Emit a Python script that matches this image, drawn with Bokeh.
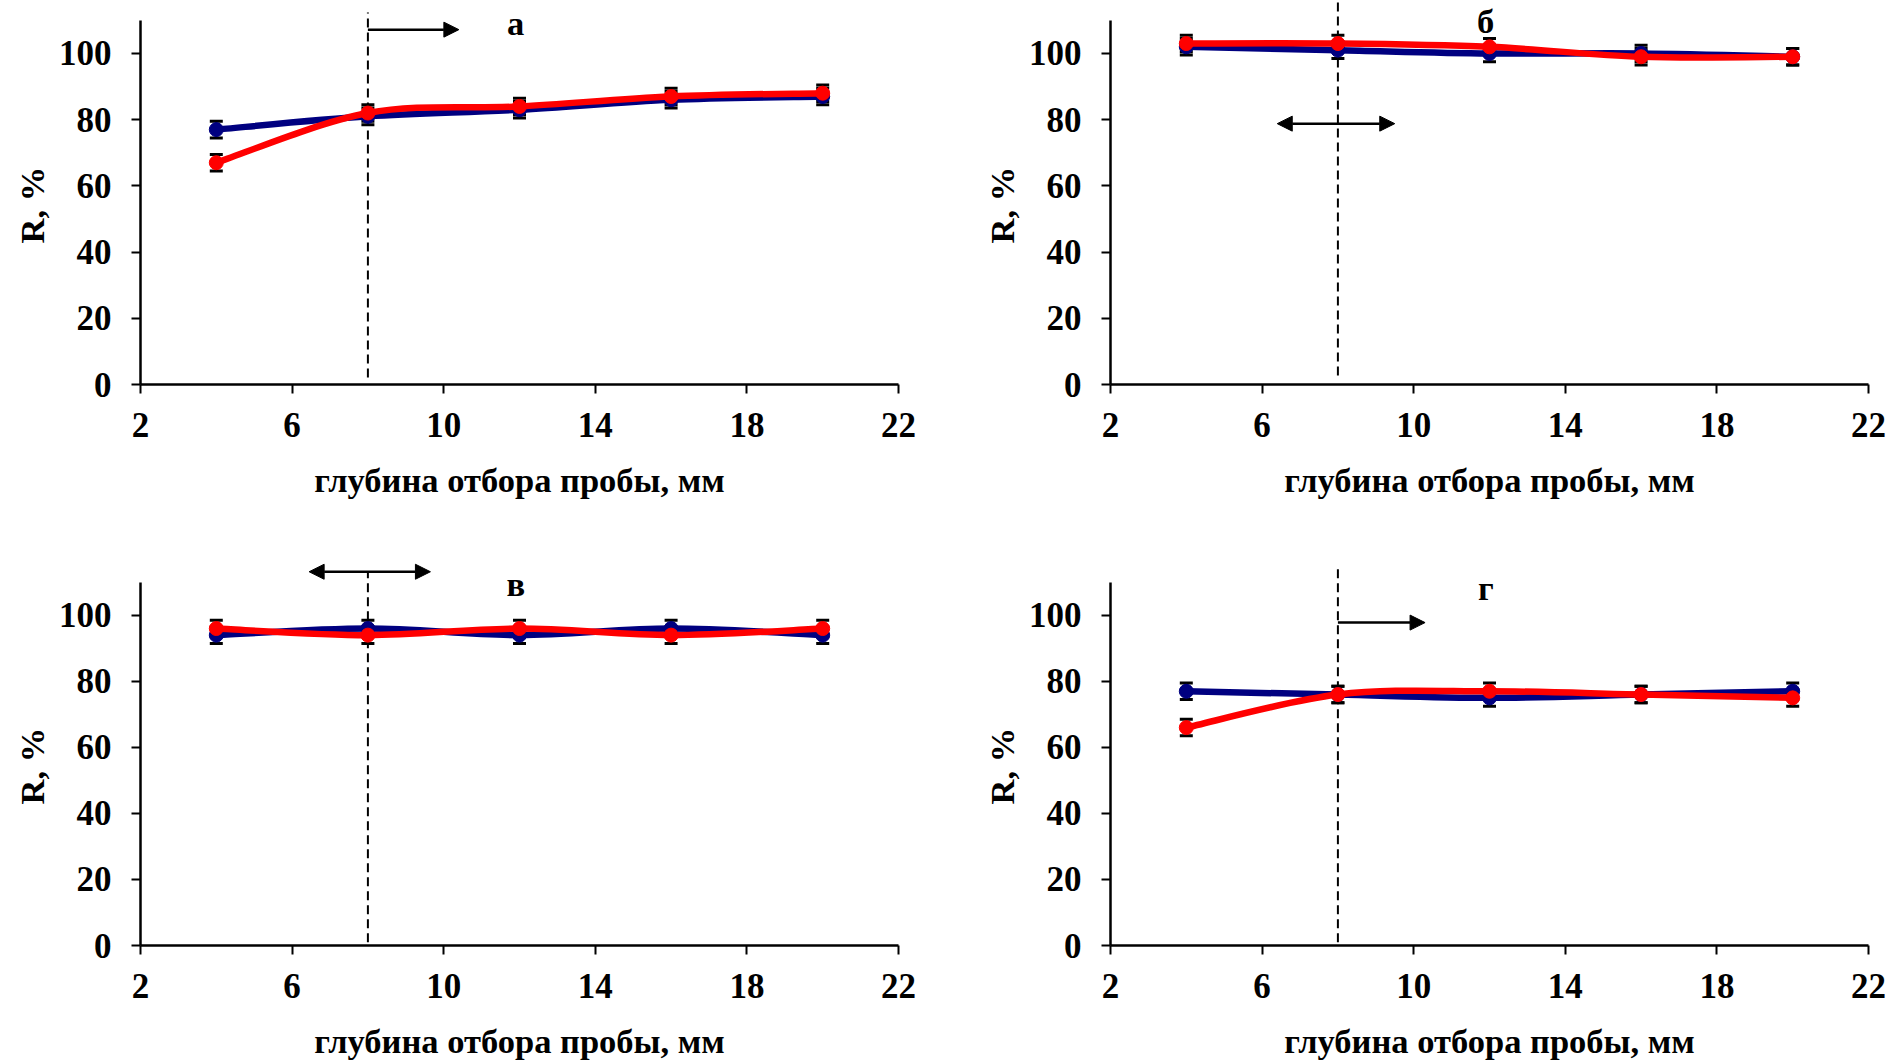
from bokeh.plotting import figure
from bokeh.layouts import column, row
from bokeh.models import (FixedTicker, Range1d, Arrow, NormalHead, Label, Title,
                          Whisker, TeeHead, ColumnDataSource)
from bokeh.embed import file_html
from bokeh.resources import INLINE

# Sampling depth, mm
depth = [4, 8, 12, 16, 20]

# Recovery R, % for each panel: two series per panel
a_blue = [77, 81, 83, 86, 87]
a_red = [67, 82, 84, 87, 88]
b_blue = [102, 101, 100, 100, 99]
b_red = [103, 103, 102, 99, 99]
c_blue = [94, 96, 94, 96, 94]
c_red = [96, 94, 96, 94, 96]
d_blue = [77, 76, 75, 76, 77]
d_red = [66, 76, 77, 76, 75]
err = 2.5  # half-width of the error bars, %

x_ticks = [2, 6, 10, 14, 18, 22]
y_ticks = [0, 20, 40, 60, 80, 100]
x_title = "глубина отбора пробы, мм"
y_title = "R, %"
letters = ["а", "б", "в", "г"]

# Boundary depth marked by the dashed line and the arrows
boundary = 8
arrows = [  # (x_start, x_end, y, double_headed)
    (8, 10.4, 107.2, False),
    (6.4, 9.5, 78.8, True),
    (6.45, 9.65, 113.2, True),
    (8, 10.3, 97.8, False),
]
dash_spans = [(2.1, 112.4), (2.7, 116), (1.0, 113.2), (1.0, 114.5)]
letter_pos = [(11.9, 109.3), (11.9, 109.7), (11.9, 109.5), (11.9, 108.3)]

BLUE = "#000080"
RED = "#FF0000"
FONT = "Liberation Serif"
FS_TICK = "35px"
FS_TITLE = "34.5px"


def smooth(xs, ys, t=1 / 6):
    """Cubic Bezier pieces of a smoothed line passing through every point."""
    n = len(xs)
    out = {k: [] for k in ("x0", "y0", "x1", "y1", "cx0", "cy0", "cx1", "cy1")}
    for i in range(n - 1):
        a, b = max(i - 1, 0), min(i + 2, n - 1)
        out["x0"].append(xs[i]); out["y0"].append(ys[i])
        out["x1"].append(xs[i + 1]); out["y1"].append(ys[i + 1])
        out["cx0"].append(xs[i] + (xs[i + 1] - xs[a]) * t)
        out["cy0"].append(ys[i] + (ys[i + 1] - ys[a]) * t)
        out["cx1"].append(xs[i + 1] - (xs[b] - xs[i]) * t)
        out["cy1"].append(ys[i + 1] - (ys[b] - ys[i]) * t)
    return out


def panel(blue, red, idx):
    top_row = idx < 2
    left_col = idx % 2 == 0
    h = 540 if top_row else 522
    bt = 0 if top_row else 22
    bb = h - bt - 384
    bl = 140 if left_col else 160
    br = 52 if left_col else 32
    p = figure(width=950, height=h, x_range=Range1d(2, 22), y_range=Range1d(0, 116),
               output_backend="svg", toolbar_location=None,
               min_border_left=bl, min_border_right=br,
               min_border_top=bt, min_border_bottom=bb)
    p.outline_line_color = None
    p.xgrid.visible = False
    p.ygrid.visible = False
    p.background_fill_color = "white"
    p.border_fill_color = "white"

    p.xaxis.ticker = FixedTicker(ticks=x_ticks)
    p.yaxis.ticker = FixedTicker(ticks=y_ticks)
    p.yaxis.bounds = (0, 110)
    p.xaxis.axis_label = x_title
    for ax in (p.xaxis[0], p.yaxis[0]):
        ax.axis_line_width = 2.5
        ax.axis_line_color = "black"
        ax.major_tick_line_width = 2
        ax.major_tick_line_color = "black"
        ax.major_tick_out = 9
        ax.major_tick_in = 0
        ax.minor_tick_line_color = None
        ax.major_label_text_font = FONT
        ax.major_label_text_font_size = FS_TICK
        ax.major_label_text_font_style = "bold"
        ax.major_label_text_color = "black"
        ax.axis_label_text_font = FONT
        ax.axis_label_text_font_size = FS_TITLE
        ax.axis_label_text_font_style = "bold"
        ax.axis_label_text_color = "black"
    p.yaxis.major_label_standoff = 20
    p.xaxis.major_label_standoff = 19
    p.xaxis.axis_label_standoff = 21

    # vertical title, set a little below the middle of the frame
    p.add_layout(Title(text=y_title, align="left", offset=141, vertical_align="bottom",
                       text_font=FONT, text_font_size=FS_TITLE, text_font_style="bold",
                       text_color="black", standoff=10), "left")

    # dashed boundary line
    lo, hi = dash_spans[idx]
    p.segment(x0=[boundary], y0=[lo], x1=[boundary], y1=[hi],
              line_color="black", line_width=2, line_dash="9 5")

    # error bars
    for ser in (blue, red):
        src = ColumnDataSource(dict(x=depth, upper=[v + err for v in ser],
                                    lower=[v - err for v in ser]))
        p.add_layout(Whisker(source=src, base="x", upper="upper", lower="lower",
                             line_color="black", line_width=2, level="underlay",
                             upper_head=TeeHead(size=13, line_width=3, line_color="black"),
                             lower_head=TeeHead(size=13, line_width=3, line_color="black")))

    # smoothed series lines with round markers
    for ser, col in ((blue, BLUE), (red, RED)):
        p.bezier(**smooth(depth, ser), line_color=col, line_width=6.5, line_cap="round")
        p.scatter(depth, ser, size=14, fill_color=col, line_color=col)

    # direction arrow
    xs, xe, ya, dbl = arrows[idx]
    head = lambda: NormalHead(size=15, fill_color="black", line_color="black", line_width=1)
    p.add_layout(Arrow(x_start=xs, y_start=ya, x_end=xe, y_end=ya, line_width=2.5,
                       line_color="black", end=head(), start=head() if dbl else None))

    lx, ly = letter_pos[idx]
    p.add_layout(Label(x=lx, y=ly, text=letters[idx], text_font=FONT,
                       text_font_size=FS_TITLE, text_font_style="bold", text_color="black",
                       text_align="center", text_baseline="alphabetic"))
    return p


pa = panel(a_blue, a_red, 0)
pb = panel(b_blue, b_red, 1)
pc = panel(c_blue, c_red, 2)
pd = panel(d_blue, d_red, 3)

layout = column(row(pa, pb), row(pc, pd))
open("out.html", "w").write(file_html(layout, INLINE))
